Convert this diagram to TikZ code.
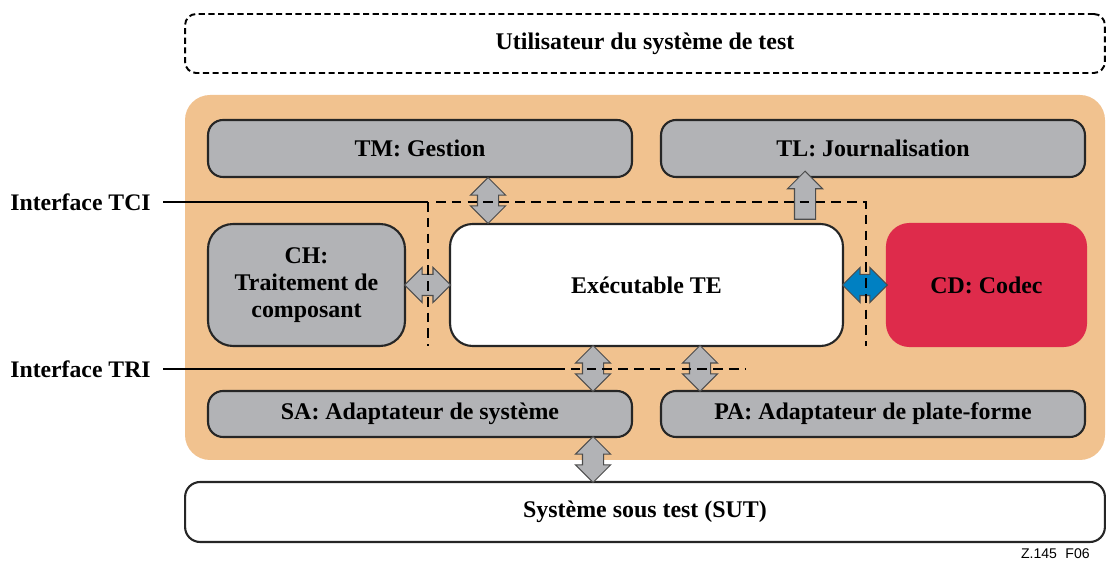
\documentclass[tikz,border=0pt]{standalone}
\usepackage{fontspec}
\setmainfont{Liberation Serif}
\newfontfamily\labelfont{Liberation Sans}
\usetikzlibrary{shapes.arrows,calc}

\definecolor{bgorange}{RGB}{241,194,143}
\definecolor{boxgray}{RGB}{178,179,182}
\definecolor{codecred}{RGB}{222,43,75}
\definecolor{codecblue}{RGB}{0,128,194}

\tikzset{
    box/.style={draw=black!85, line width=1.2pt, rounded corners=0.3cm, fill=boxgray,
        font=\bfseries\fontsize{13.6pt}{15.5pt}\selectfont, align=center, inner sep=0pt},
    whitebox/.style={box, fill=white},
    dblarrow/.style={double arrow, draw=black!70, fill=boxgray, line width=0.6pt,
        inner xsep=0pt, inner ysep=0.2cm, double arrow head extend=0.14cm,
        minimum height=0.92cm, rotate=90},
    uparrow/.style={single arrow, draw=black!70, fill=boxgray, line width=0.6pt,
        inner xsep=0pt, inner ysep=0.2cm, single arrow head extend=0.14cm,
        minimum height=0.94cm, rotate=90},
    iface/.style={font=\bfseries\fontsize{13.5pt}{15.5pt}\selectfont, inner sep=0pt, anchor=west},
    ifline/.style={line width=1.5pt},
    ifdash/.style={line width=1.4pt, dash pattern=on 5.5pt off 3.5pt}
}

\begin{document}
\begin{tikzpicture}[x=0.02cm, y=-0.02cm]
    \useasboundingbox (0,0) rectangle (1107,564);

    % utilisateur
    \node[box, fill=white, draw=black, line width=1.1pt, dash pattern=on 3.5pt off 2pt,
        rounded corners=0.22cm, minimum width=18.4cm, minimum height=1.18cm] (user) at (645,43.5)
        {Utilisateur du système de test};

    % fond orange
    \fill[bgorange, rounded corners=0.5cm] (185,95) rectangle (1105,460);

    \node[box, minimum width=8.48cm, minimum height=1.14cm] (tm) at (420,148.5) {TM: Gestion};
    \node[box, minimum width=8.48cm, minimum height=1.14cm] (tl) at (873,148.5) {TL: Journalisation};
    \node[box, minimum width=3.94cm, minimum height=2.44cm, rounded corners=0.5cm] (ch) at (306.5,285)
        {CH:\\Traitement de\\composant};
    \node[whitebox, minimum width=7.86cm, minimum height=2.44cm, rounded corners=0.45cm] (te) at (646.5,285)
        {Exécutable TE};
    \node[box, fill=codecred, draw=codecred, minimum width=3.98cm, minimum height=2.44cm,
        rounded corners=0.45cm] (cd) at (986.5,285) {CD: Codec};
    \node[box, minimum width=8.48cm, minimum height=0.92cm] (sa) at (420,414) {SA: Adaptateur de système};
    \node[box, minimum width=8.48cm, minimum height=0.92cm] (pa) at (873,414) {PA: Adaptateur de plate-forme};
    \node[whitebox, minimum width=18.4cm, minimum height=1.2cm] (sut) at (645,512) {Système sous test (SUT)};

    % fleches
    \node[dblarrow] (a1) at ($(488,0 |- tm.south)!0.5!(488,0 |- te.north)$) {};
    \node[uparrow, minimum height=0.96cm] (a2) at ($(805,0 |- tl.south)!0.5!(805,0 |- te.north)$) {};
    \node[dblarrow, rotate=-90] (a3) at ($(ch.east)!0.5!(te.west)$) {};
    \node[dblarrow, rotate=-90, fill=codecblue, minimum height=0.9cm] (a4) at ($(te.east)!0.5!(cd.west)$) {};
    \node[dblarrow] (a5) at ($(593,0 |- te.south)!0.5!(593,0 |- sa.north)$) {};
    \node[dblarrow] (a6) at ($(700,0 |- te.south)!0.5!(700,0 |- pa.north)$) {};
    \node[dblarrow] (a7) at ($(593,0 |- sa.south)!0.5!(593,0 |- sut.north)$) {};

    % interfaces
    \node[iface] (tci) at (10,202) {Interface TCI};
    \node[iface] (tri) at (10,369) {Interface TRI};
    \coordinate (tcicorner) at (428,202);
    \coordinate (tricut) at (555,369);
    \draw[ifline] (tci.east) ++(12,0) -- (tcicorner);
    \draw[ifdash] (tcicorner) -- (428,346);
    \draw[ifdash] (436,202) -- (866,202) -- (866,346);
    \draw[ifline] (tri.east) ++(12,0) -- (tricut);
    \draw[ifdash] (tricut) -- (745,369);

    \node[font=\labelfont\fontsize{8pt}{9pt}\selectfont, anchor=east, inner sep=0pt] (ref) at (1090,554) {Z.145\hspace{0.6em}F06};
\end{tikzpicture}
\end{document}
